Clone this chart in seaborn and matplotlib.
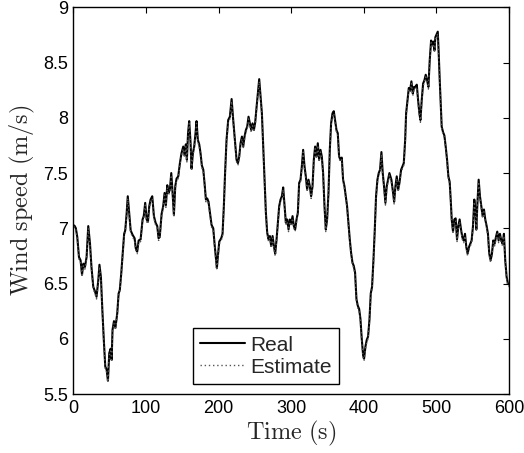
import matplotlib
matplotlib.use("Agg")
import matplotlib.pyplot as plt
import seaborn as sns
import pandas as pd

time_s = [0, 2, 3.5, 5.5, 7.8, 10, 12, 13.8, 16, 18.3, 20.6, 23, 25, 27.5, 29.8, 32, 34.4, 36, 38, 40,
          42, 44, 45.9, 47.7, 49.5, 51.4, 52.8, 54, 56, 58, 60.5, 62.4, 64, 66, 68, 70, 71.5, 73.4, 75, 77,
          79, 81.7, 84.4, 86, 88, 90, 92.7, 95.4, 97, 99, 101, 102.8, 104.6, 106.4, 108.7, 111, 113.3, 115.6, 117.4, 119,
          121.6, 123.8, 125.7, 127.5, 129.4, 131, 133, 134.9, 136.7, 138.5, 140.4, 142.2, 144.5, 146.8, 149, 151.4, 153.2, 155, 156.4, 158,
          159.6, 161.5, 162.8, 164.7, 166.5, 168.3, 169.7, 171.5, 173.4, 175.2, 177, 179, 180.7, 182.6, 184.4, 186.2, 188, 190.4, 192.7, 194.5,
          196.3, 197.7, 199, 201, 203.7, 205.5, 207.3, 209, 211, 213.3, 215.6, 218, 220.2, 222.5, 224.8, 226.7, 228.5, 230.3, 232.2, 234,
          235.8, 237.7, 239.5, 241.3, 243.2, 245, 246.8, 248.7, 250.5, 252.4, 254.2, 256, 257.9, 259.7, 261.5, 263.4, 265.2, 267, 268.9, 270.7,
          272.5, 274.4, 276.2, 278, 279.9, 281.7, 283.5, 285.4, 287.2, 289, 290.9, 292.7, 294.5, 296.4, 298.2, 300, 301.9, 303.7, 305.5, 307.4,
          309.2, 311, 312.9, 314.7, 316.5, 318.4, 320.2, 322, 323.9, 325.7, 327.5, 329.4, 331.2, 333, 334.9, 336.7, 338.5, 340.4, 342.2, 344,
          345.9, 347.7, 349.5, 351.4, 353.2, 355, 356.9, 358.7, 360.5, 362.4, 364.2, 366, 367.9, 369.7, 371.5, 373.4, 375.2, 377, 378.9, 380.7,
          382.5, 384.4, 386.2, 388, 389.9, 391.7, 393.6, 395.4, 397.2, 399.1, 400.4, 402.3, 404.1, 405.9, 407.8, 409.6, 411.4, 413.3, 415.1, 416.9,
          418.8, 420.6, 422.4, 424.3, 426.1, 427.9, 429.8, 431.6, 433.4, 435.3, 438, 440.4, 441.8, 443.6, 445.4, 447.3, 449.1, 451.4, 453.3, 455.1,
          457, 458.3, 460.2, 462, 463.8, 465.6, 467.5, 469.3, 471.1, 473, 474.8, 476.6, 478, 479.8, 481.7, 483.5, 485.3, 487.2, 489, 490.8,
          492.7, 494.5, 495.9, 497.3, 498.6, 500.5, 501.9, 503.2, 504.6, 506, 507.3, 509.2, 511, 512.8, 514.7, 516.5, 518.3, 519.7, 521.1, 522.9,
          524.7, 526.5, 528.4, 530.2, 532, 533.9, 535.7, 537.5, 539.4, 541.2, 543, 544.9, 546.7, 548.5, 550.4, 552.2, 553.6, 555, 556.3, 558.2,
          560, 561.8, 563.7, 565.5, 567.3, 569.2, 571, 572.8, 574.7, 576.5, 578.3, 580.2, 582, 583.8, 585.7, 587.5, 589.3, 591.2, 593, 594.8,
          596.7, 598.5, 600]

real_speed = [7.03, 7.02, 7.0, 6.92, 6.74, 6.71, 6.58, 6.68, 6.65, 6.74, 7.02, 6.86, 6.65, 6.47, 6.43, 6.38, 6.53, 6.67, 6.56, 6.26,
              5.99, 5.75, 5.72, 5.62, 5.87, 5.91, 5.81, 6.08, 6.16, 6.1, 6.23, 6.41, 6.44, 6.59, 6.77, 6.95, 6.98, 7.13, 7.29, 7.13,
              6.98, 6.94, 6.91, 6.82, 6.79, 6.89, 6.9, 7.08, 7.11, 7.23, 7.08, 7.06, 7.2, 7.26, 7.29, 7.11, 7.05, 7.02, 6.91, 6.92,
              7.13, 7.2, 7.32, 7.21, 7.39, 7.32, 7.35, 7.5, 7.32, 7.12, 7.38, 7.45, 7.47, 7.59, 7.68, 7.74, 7.66, 7.76, 7.62, 7.86,
              7.97, 7.77, 7.54, 7.68, 7.74, 7.86, 7.97, 7.8, 7.76, 7.68, 7.57, 7.53, 7.41, 7.26, 7.27, 7.24, 7.15, 7.03, 7.0, 6.86,
              6.74, 6.64, 6.74, 6.88, 6.91, 6.95, 7.2, 7.5, 7.8, 7.98, 8.01, 8.17, 7.98, 7.8, 7.62, 7.59, 7.65, 7.77, 7.83, 7.74,
              7.83, 7.89, 7.92, 8.01, 7.95, 7.89, 7.95, 7.89, 7.96, 8.1, 8.22, 8.35, 8.19, 8.04, 7.74, 7.41, 7.14, 6.96, 6.9, 6.93,
              6.84, 6.93, 6.84, 6.77, 6.9, 7.05, 7.2, 7.26, 7.29, 7.37, 7.2, 7.05, 7.08, 6.99, 7.08, 7.04, 7.11, 7.02, 6.99, 7.08,
              7.14, 7.41, 7.44, 7.56, 7.71, 7.56, 7.47, 7.35, 7.44, 7.38, 7.29, 7.38, 7.62, 7.74, 7.65, 7.77, 7.62, 7.71, 7.65, 7.5,
              7.2, 6.99, 7.08, 7.32, 7.71, 7.95, 8.04, 8.06, 7.98, 7.89, 7.86, 7.65, 7.62, 7.64, 7.44, 7.38, 7.29, 7.2, 7.05, 6.9,
              6.78, 6.69, 6.66, 6.6, 6.36, 6.3, 6.27, 6.18, 6.0, 5.85, 5.82, 5.93, 5.99, 6.02, 6.17, 6.41, 6.47, 6.71, 6.98, 7.29,
              7.44, 7.5, 7.53, 7.69, 7.5, 7.38, 7.23, 7.38, 7.44, 7.5, 7.44, 7.32, 7.24, 7.38, 7.47, 7.35, 7.41, 7.53, 7.56, 7.59,
              7.8, 8.04, 8.16, 8.27, 8.25, 8.33, 8.22, 8.28, 8.28, 8.3, 8.16, 8.04, 7.98, 8.16, 8.31, 8.34, 8.39, 8.34, 8.28, 8.52,
              8.7, 8.67, 8.69, 8.61, 8.73, 8.76, 8.78, 8.58, 8.34, 8.13, 7.92, 7.87, 7.84, 7.74, 7.62, 7.47, 7.42, 7.26, 7.08, 6.97,
              7.08, 7.09, 6.9, 7.02, 7.08, 6.99, 6.92, 6.89, 6.95, 6.83, 6.77, 6.83, 6.86, 6.89, 7.02, 7.26, 7.17, 6.99, 7.2, 7.44,
              7.29, 7.2, 7.11, 7.17, 7.08, 7.02, 6.95, 6.77, 6.71, 6.77, 6.89, 6.86, 6.92, 6.97, 6.89, 6.95, 6.89, 6.86, 6.95, 6.71,
              6.56, 6.5, 6.49]

estimate_speed = [7.02, 7.01, 6.99, 6.9, 6.72, 6.69, 6.56, 6.66, 6.63, 6.72, 7.0, 6.84, 6.63, 6.45, 6.41, 6.36, 6.51, 6.65, 6.54, 6.24,
                  5.97, 5.73, 5.7, 5.61, 5.85, 5.89, 5.79, 6.06, 6.14, 6.08, 6.21, 6.39, 6.42, 6.57, 6.75, 6.93, 6.96, 7.11, 7.27, 7.11,
                  6.96, 6.92, 6.89, 6.8, 6.77, 6.87, 6.88, 7.06, 7.09, 7.21, 7.06, 7.04, 7.18, 7.24, 7.27, 7.09, 7.03, 7.0, 6.89, 6.9,
                  7.11, 7.18, 7.3, 7.19, 7.37, 7.3, 7.33, 7.48, 7.3, 7.1, 7.36, 7.43, 7.45, 7.57, 7.66, 7.72, 7.64, 7.74, 7.6, 7.84,
                  7.95, 7.75, 7.52, 7.66, 7.72, 7.84, 7.95, 7.78, 7.74, 7.66, 7.55, 7.51, 7.39, 7.24, 7.25, 7.22, 7.13, 7.01, 6.98, 6.84,
                  6.72, 6.62, 6.72, 6.86, 6.89, 6.93, 7.18, 7.48, 7.78, 7.96, 7.99, 8.15, 7.96, 7.78, 7.6, 7.57, 7.63, 7.75, 7.81, 7.72,
                  7.81, 7.87, 7.9, 7.99, 7.93, 7.87, 7.93, 7.87, 7.94, 8.08, 8.2, 8.33, 8.17, 8.02, 7.72, 7.39, 7.12, 6.94, 6.88, 6.91,
                  6.82, 6.91, 6.82, 6.75, 6.88, 7.03, 7.18, 7.24, 7.27, 7.35, 7.18, 7.03, 7.06, 6.97, 7.06, 7.02, 7.09, 7.0, 6.97, 7.06,
                  7.12, 7.39, 7.42, 7.54, 7.69, 7.54, 7.45, 7.33, 7.42, 7.36, 7.27, 7.36, 7.6, 7.72, 7.63, 7.75, 7.6, 7.69, 7.63, 7.48,
                  7.18, 6.97, 7.06, 7.3, 7.69, 7.93, 8.02, 8.04, 7.96, 7.87, 7.84, 7.63, 7.6, 7.62, 7.42, 7.36, 7.27, 7.18, 7.03, 6.88,
                  6.76, 6.67, 6.64, 6.58, 6.34, 6.28, 6.25, 6.16, 5.98, 5.83, 5.8, 5.91, 5.97, 6.0, 6.15, 6.39, 6.45, 6.69, 6.96, 7.27,
                  7.42, 7.48, 7.51, 7.67, 7.48, 7.36, 7.21, 7.36, 7.42, 7.48, 7.42, 7.3, 7.22, 7.36, 7.45, 7.33, 7.39, 7.51, 7.54, 7.57,
                  7.78, 8.02, 8.14, 8.25, 8.23, 8.31, 8.2, 8.26, 8.26, 8.28, 8.14, 8.02, 7.96, 8.14, 8.29, 8.32, 8.37, 8.32, 8.26, 8.5,
                  8.68, 8.65, 8.67, 8.59, 8.71, 8.74, 8.76, 8.56, 8.32, 8.11, 7.9, 7.85, 7.82, 7.72, 7.6, 7.45, 7.4, 7.24, 7.06, 6.95,
                  7.06, 7.07, 6.88, 7.0, 7.06, 6.97, 6.9, 6.87, 6.93, 6.81, 6.75, 6.81, 6.84, 6.87, 7.0, 7.24, 7.15, 6.97, 7.18, 7.42,
                  7.27, 7.18, 7.09, 7.15, 7.06, 7.0, 6.93, 6.75, 6.69, 6.75, 6.87, 6.84, 6.9, 6.95, 6.87, 6.93, 6.87, 6.84, 6.93, 6.69,
                  6.54, 6.48, 6.47]

x_ticks = [0, 100, 200, 300, 400, 500, 600]
y_ticks = [5.5, 6, 6.5, 7, 7.5, 8, 8.5, 9]
y_tick_labels = ["5.5", "6", "6.5", "7", "7.5", "8", "8.5", "9"]

sns.set_style("white")
plt.rcParams["font.family"] = ["Liberation Sans", "DejaVu Sans"]
plt.rcParams["mathtext.fontset"] = "cm"

df_real = pd.DataFrame({"t": time_s, "v": real_speed})
df_est = pd.DataFrame({"t": time_s, "v": estimate_speed})

fig = plt.figure(figsize=(5.24, 4.53), dpi=100)
ax = fig.add_axes([0.1399, 0.1302, 0.8315, 0.8536])

sns.lineplot(data=df_real, x="t", y="v", ax=ax, color="black", linewidth=1.5,
             estimator=None, sort=False, label="Real")
sns.lineplot(data=df_est, x="t", y="v", ax=ax, color="#555555", linewidth=1.0,
             linestyle=(0, (1, 2)), estimator=None, sort=False, label="Estimate")

ax.set_xlim(0, 600)
ax.set_ylim(5.5, 9)
ax.set_xticks(x_ticks)
ax.set_xticklabels([str(t) for t in x_ticks])
ax.set_yticks(y_ticks)
ax.set_yticklabels(y_tick_labels)
ax.tick_params(direction="in", length=4, width=0.8, top=True, right=True,
               labelsize=13, colors="black", pad=4)
for s in ax.spines.values():
    s.set_visible(True)
    s.set_color("black")
    s.set_linewidth(1.0)

ax.set_xlabel(r"$\mathrm{Time\ (s)}$", fontsize=17.5, labelpad=2)
ax.set_ylabel(r"$\mathrm{Wind\ speed\ (m/s)}$", fontsize=17.5, labelpad=4)

leg = ax.legend(loc="lower left", bbox_to_anchor=(0.275, 0.026), frameon=True,
                fancybox=False, framealpha=1, edgecolor="black", fontsize=15,
                handlelength=2.15, handletextpad=0.25, labelspacing=0.15,
                borderpad=0.35, borderaxespad=0)
leg.get_frame().set_linewidth(1.0)

fig.savefig("out.png", dpi=100)
